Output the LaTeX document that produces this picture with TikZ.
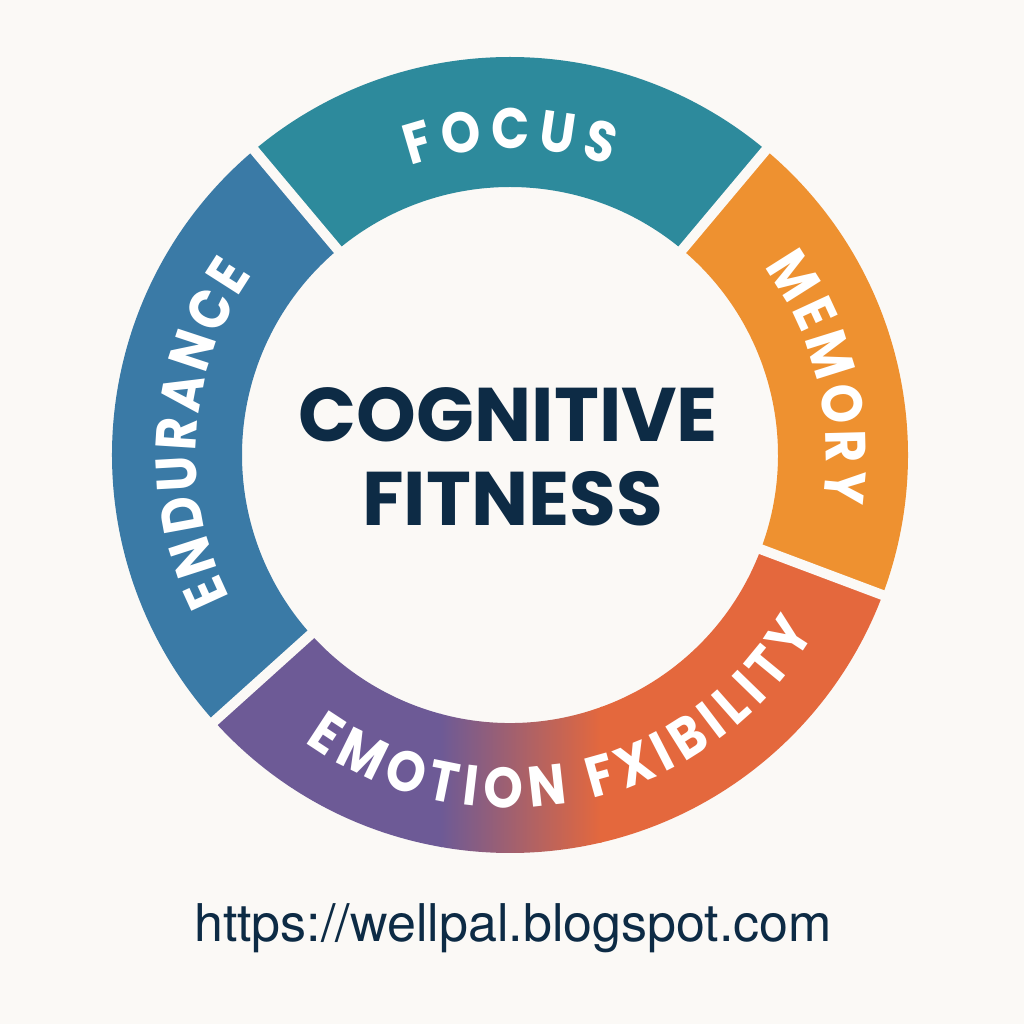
\documentclass[tikz,border=0pt]{standalone}
\usepackage{fontspec}
\setmainfont{Poppins}
\newfontfamily\lblfont{Poppins}[FakeStretch=0.88]
\newfontfamily\urlfont{TeX Gyre Heros}
\usetikzlibrary{decorations.text}
\definecolor{bg}{HTML}{FBF9F6}
\definecolor{focusc}{HTML}{2D8A9C}
\definecolor{endurc}{HTML}{3A7AA6}
\definecolor{memc}{HTML}{EE9130}
\definecolor{emoP}{HTML}{6D5A96}
\definecolor{emoR}{HTML}{E4683D}
\definecolor{navy}{HTML}{0D2B45}
\newcommand\lblset{\lblfont\bfseries\fontsize{57}{57}\selectfont}
\tikzset{
  gapline/.style={draw=bg, line width=10pt},
  ringlabel/.style={decorate, decoration={text along path, text align=fit to path, text color=white}},
  titletext/.style={text=navy, font=\bfseries\fontsize{76}{76}\selectfont, inner sep=0pt, anchor=base},
}
\begin{document}
\begin{tikzpicture}[x=1pt,y=1pt]
\fill[bg] (0,0) rectangle (1024,1024);
\useasboundingbox (0,0) rectangle (1024,1024);
\begin{scope}[shift={(510,569)}]
  % sectors
  \fill[focusc] (50:398pt) arc[start angle=50,end angle=130,radius=398pt] -- (130:268pt) arc[start angle=130,end angle=50,radius=268pt] -- cycle;
  \fill[endurc] (130:398pt) arc[start angle=130,end angle=222,radius=398pt] -- (222:268pt) arc[start angle=222,end angle=130,radius=268pt] -- cycle;
  \fill[memc] (-20.6:398pt) arc[start angle=-20.6,end angle=50,radius=398pt] -- (50:268pt) arc[start angle=50,end angle=-20.6,radius=268pt] -- cycle;
  \begin{scope}
    \clip (222:398pt) arc[start angle=222,end angle=339.4,radius=398pt] -- (339.4:268pt) arc[start angle=339.4,end angle=222,radius=268pt] -- cycle;
    \fill[emoP] (-420,-420) rectangle (-68,0);
    \shade[left color=emoP,right color=emoR] (-70,-420) rectangle (92,0);
    \fill[emoR] (90,-420) rectangle (420,0);
  \end{scope}
  % gaps
  \draw[gapline] (50:250pt) -- (50:415pt);
  \draw[gapline] (130:250pt) -- (130:415pt);
  \draw[gapline] (222:250pt) -- (222:415pt);
  \draw[gapline] (-20.6:250pt) -- (-20.6:415pt);
  % labels
  \path[ringlabel, decoration={text={|\lblset|FOCUS}}] (109:306pt) arc[start angle=109,end angle=71,radius=306pt];
  \path[ringlabel, decoration={text={|\lblset|MEMORY}}] (36.5:316pt) arc[start angle=36.5,end angle=-8.5,radius=316pt];
  \path[ringlabel, decoration={text={|\lblset|ENDURANCE}}] (207:314pt) arc[start angle=207,end angle=145,radius=314pt];
  \path[ringlabel, decoration={text={|\lblset|EMOTION FXIBILITY}}] (234.5:353pt) arc[start angle=234.5,end angle=329.6,radius=353pt];
\end{scope}
\node[titletext] (title1) at (508.5,582) {COGNITIVE};
\node[titletext] (title2) at (512.5,498) {FITNESS};
\node[text=navy, font=\urlfont\fontsize{52}{52}\selectfont, inner sep=0pt, anchor=base] (url) at (513,82) {https://wellpal.blogspot.com};
\end{tikzpicture}
\end{document}
